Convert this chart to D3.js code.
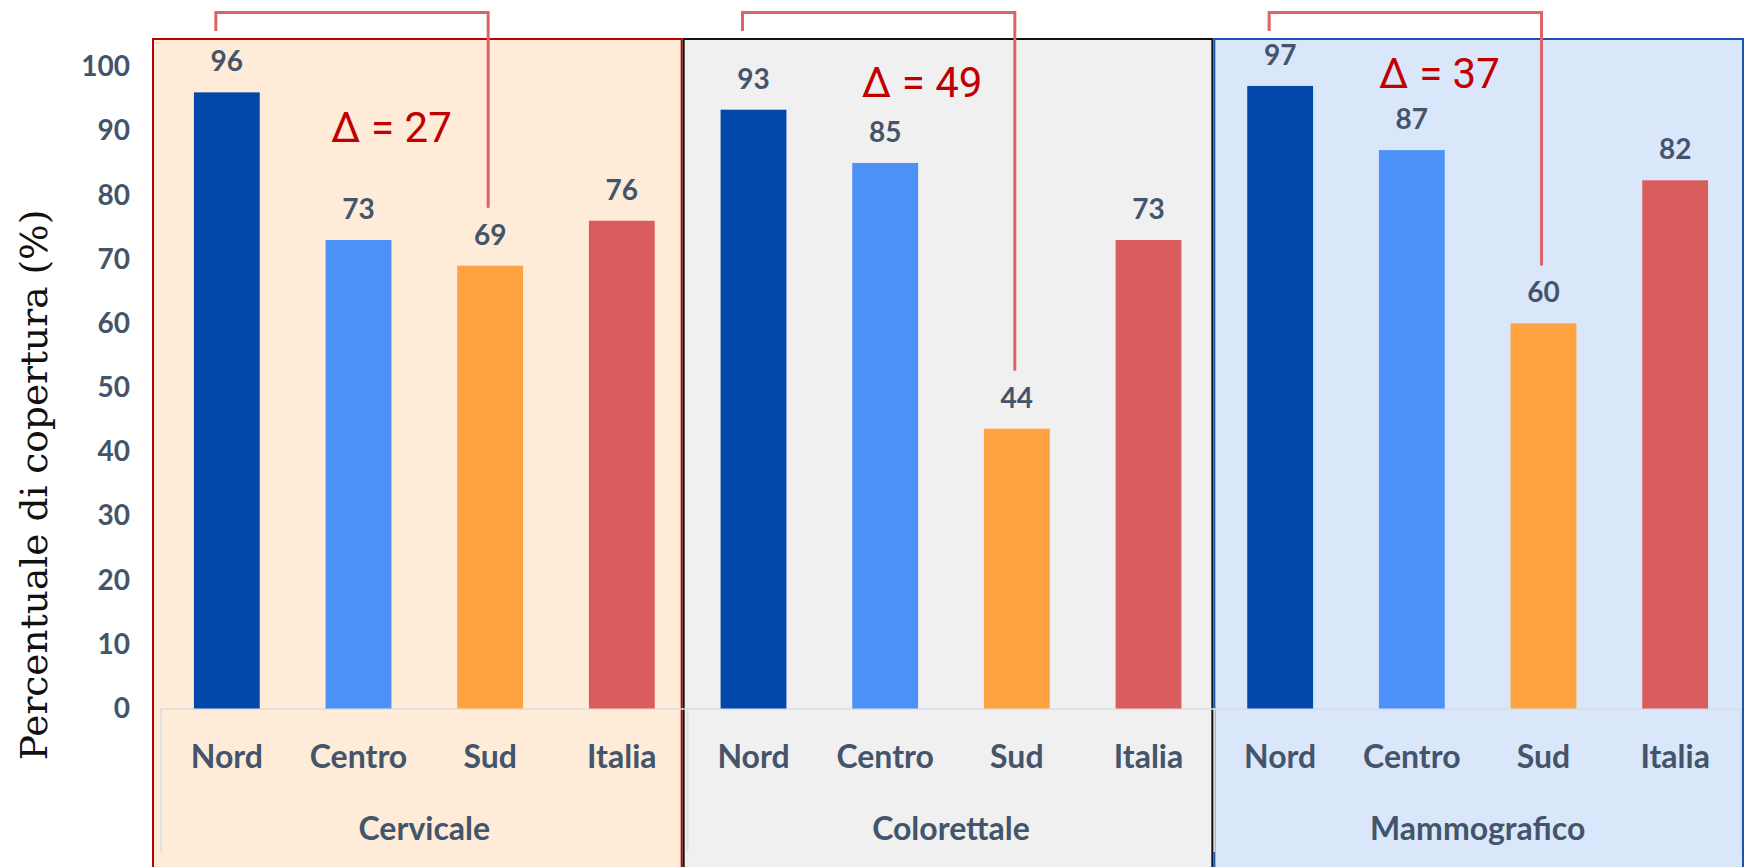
<!DOCTYPE html>
<html>
<head>
<meta charset="utf-8">
<script src="https://cdn.jsdelivr.net/npm/d3@7"></script>
<style>
body { margin: 0; background: #fff; }
svg { display: block; }
.lbl { font-family: Lato, sans-serif; font-weight: bold; fill: #44546a; }
</style>
</head>
<body>
<div id="chart"></div>
<script>
// screening coverage by area, one panel per programme
var groups = ['Cervicale', 'Colorettale', 'Mammografico'];
var areas = ['Nord', 'Centro', 'Sud', 'Italia'];
var cervicale = [96, 73, 69, 76];
var colorettale = [93.3, 85, 43.6, 73];
var mammografico = [97, 87, 60, 82.3];
var yTicks = [0, 10, 20, 30, 40, 50, 60, 70, 80, 90, 100];
var yTitle = 'Percentuale di copertura (%)';

var W = 1744, H = 867;
var areaColor = ['#0247aa', '#4b91f7', '#fea340', '#d95d5d'];
var panelFill = ['#feebd8', '#f0f0f0', '#dae7fb'];
var panelStroke = ['#c00000', '#111111', '#1b52b5'];
// where each Δ label sits: x in bands from the Centro centre, y in %
var deltaPos = [[0.25, 88.3], [0.28, 95.3], [0.21, 96.7]];

var series = [cervicale, colorettale, mammografico];
var rows = [];
groups.forEach(function (g, gi) {
    areas.forEach(function (a, ai) {
        rows.push({ group: g, gi: gi, area: a, ai: ai, value: series[gi][ai], key: g + '|' + a });
    });
});

var svg = d3.select('#chart').append('svg')
    .attr('width', W).attr('height', H);

var x = d3.scaleBand()
    .domain(rows.map(function (d) { return d.key; }))
    .range([161, 1741])
    .paddingInner(0.5)
    .paddingOuter(0.25);
var gx = d3.scaleBand().domain(groups).range([152, 1744]);
var y = d3.scaleLinear().domain([0, 100]).range([708.5, 66.7]);

var step = x.step();
var cx = function (d) { return x(d.key) + x.bandwidth() / 2; };
var groupStart = function (g) { return x(g + '|' + areas[0]) - x.paddingOuter() * step; };

// coloured panels behind each programme
svg.selectAll('.panel').data(groups).enter()
    .append('rect')
    .attr('class', 'panel')
    .attr('x', function (g) { return gx(g) + 1; })
    .attr('y', 39)
    .attr('width', gx.bandwidth() - 2)
    .attr('height', H)
    .attr('fill', function (g, i) { return panelFill[i]; })
    .attr('stroke', function (g, i) { return panelStroke[i]; })
    .attr('stroke-width', 2);

// category axis box
var axisG = svg.append('g').attr('class', 'x-axis');
axisG.append('line')
    .attr('x1', 161).attr('x2', 1741)
    .attr('y1', y(0) + 0.5).attr('y2', y(0) + 0.5)
    .attr('stroke', '#d9dde3').attr('stroke-width', 1.5);
axisG.selectAll('.sep').data(groups.concat(['end'])).enter()
    .append('line')
    .attr('class', 'sep')
    .attr('x1', function (g, i) { return 161 + i * 4 * step; })
    .attr('x2', function (g, i) { return 161 + i * 4 * step; })
    .attr('y1', y(0)).attr('y2', 852)
    .attr('stroke', '#d9dde3').attr('stroke-width', 1.5);

svg.selectAll('.bar').data(rows).enter()
    .append('rect')
    .attr('class', 'bar')
    .attr('x', function (d) { return x(d.key); })
    .attr('y', function (d) { return y(d.value); })
    .attr('width', x.bandwidth())
    .attr('height', function (d) { return y(0) - y(d.value); })
    .attr('fill', function (d) { return areaColor[d.ai]; });

svg.selectAll('.value').data(rows).enter()
    .append('text')
    .attr('class', 'lbl value')
    .attr('x', cx)
    .attr('y', function (d) { return y(d.value) - 21; })
    .attr('text-anchor', 'middle')
    .attr('font-size', 28)
    .text(function (d) { return d3.format('.0f')(d.value); });

svg.selectAll('.cat').data(rows).enter()
    .append('text')
    .attr('class', 'lbl cat')
    .attr('x', cx)
    .attr('y', 768)
    .attr('text-anchor', 'middle')
    .attr('font-size', 32)
    .text(function (d) { return d.area; });

svg.selectAll('.group').data(groups).enter()
    .append('text')
    .attr('class', 'lbl group')
    .attr('x', function (g) { return groupStart(g) + 2 * step; })
    .attr('y', 840)
    .attr('text-anchor', 'middle')
    .attr('font-size', 32)
    .text(function (g) { return g; });

// value axis
var yAxis = svg.append('g')
    .attr('transform', 'translate(161,0)')
    .call(d3.axisLeft(y).tickValues(yTicks).tickSize(0).tickPadding(31));
yAxis.select('.domain').remove();
yAxis.selectAll('text')
    .attr('class', 'lbl')
    .attr('font-size', 28)
    .attr('font-family', null);

svg.append('text')
    .attr('transform', 'translate(47,485) rotate(-90)')
    .attr('text-anchor', 'middle')
    .attr('font-family', '"DejaVu Serif", serif')
    .attr('font-size', 37.5)
    .attr('fill', '#111')
    .text(yTitle);

// Nord - Sud gap brackets
var gaps = groups.map(function (g, gi) {
    var nord = rows[gi * 4], sud = rows[gi * 4 + 2], centro = rows[gi * 4 + 1];
    return {
        x1: cx(nord) - 11,
        x2: cx(sud) - 2,
        yEnd: y(sud.value) - 58,
        delta: Math.round(nord.value) - Math.round(sud.value),
        tx: cx(centro) + deltaPos[gi][0] * step,
        ty: y(deltaPos[gi][1])
    };
});

svg.selectAll('.bracket').data(gaps).enter()
    .append('path')
    .attr('class', 'bracket')
    .attr('d', function (d) {
        return 'M' + d.x1 + ',31V12.5H' + d.x2 + 'V' + d.yEnd;
    })
    .attr('fill', 'none')
    .attr('stroke', '#dc6464')
    .attr('stroke-width', 3);

svg.selectAll('.delta').data(gaps).enter()
    .append('text')
    .attr('class', 'delta')
    .attr('x', function (d) { return d.tx; })
    .attr('y', function (d) { return d.ty; })
    .attr('text-anchor', 'middle')
    .attr('font-family', 'Roboto, sans-serif')
    .attr('font-size', 42)
    .attr('fill', '#c00000')
    .text(function (d) { return '\u0394 = ' + d.delta; });
</script>
</body>
</html>
